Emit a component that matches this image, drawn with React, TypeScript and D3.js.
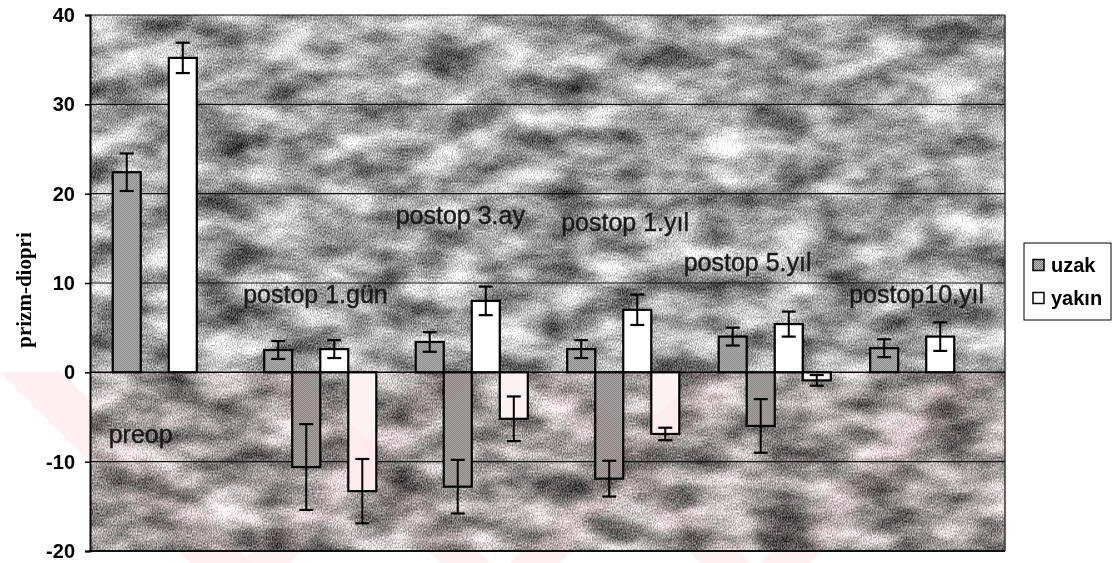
import React, { useEffect, useRef } from "react";
import * as d3 from "d3";

const categories = ["preop", "postop 1.gün", "postop 3.ay", "postop 1.yıl", "postop 5.yıl", "postop10.yıl"];
const seriesKeys = ["uzakArti", "uzakEksi", "yakinArti", "yakinEksi"];
const legendLabels = ["uzak", "yakın"];
const yTicks = [-20, -10, 0, 10, 20, 30, 40];

// mean values (null = no bar)
const uzakArti = [22.4, 2.5, 3.4, 2.6, 4.0, 2.7];
const uzakEksi = [null, -10.6, -12.8, -11.9, -6.0, null];
const yakinArti = [35.2, 2.6, 8.0, 7.0, 5.4, 4.0];
const yakinEksi = [null, -13.3, -5.2, -6.9, -0.9, null];
// standard error
const uzakArtiHata = [2.1, 1.0, 1.1, 1.0, 1.0, 1.0];
const uzakEksiHata = [null, 4.8, 3.0, 2.0, 3.0, null];
const yakinArtiHata = [1.7, 1.0, 1.6, 1.7, 1.4, 1.6];
const yakinEksiHata = [null, 3.6, 2.5, 0.7, 0.6, null];

const W = 1115;
const H = 563;
const margin = { top: 15, right: 110, bottom: 12, left: 90 };

const draw = (node: SVGSVGElement) => {
  const svg = d3.select(node);
  svg.selectAll("*").remove();
  const width = W - margin.left - margin.right;
  const height = H - margin.top - margin.bottom;

  const values = [uzakArti, uzakEksi, yakinArti, yakinEksi];
  const errors = [uzakArtiHata, uzakEksiHata, yakinArtiHata, yakinEksiHata];
  const rows = categories.map((c, i) => ({
    cat: c,
    bars: seriesKeys.map((k, j) => ({ key: k, v: values[j][i], e: errors[j][i], uzak: j < 2 }))
  }));

  const x0 = d3.scaleBand().domain(categories).range([0, width]).paddingInner(0.26).paddingOuter(0.15);
  const x1 = d3.scaleBand().domain(seriesKeys).range([0, x0.bandwidth()]).padding(0);
  const y = d3.scaleLinear().domain([-20, 40]).range([height, 0]);

  const defs = svg.append("defs");
  const f = defs
    .append("filter")
    .attr("id", "bgTex")
    .attr("x", "0%")
    .attr("y", "0%")
    .attr("width", "100%")
    .attr("height", "100%")
    .attr("color-interpolation-filters", "sRGB");
  f.append("feTurbulence")
    .attr("type", "fractalNoise")
    .attr("baseFrequency", "0.018 0.035")
    .attr("numOctaves", 3)
    .attr("seed", 11)
    .attr("result", "blob");
  f.append("feColorMatrix")
    .attr("in", "blob")
    .attr("type", "matrix")
    .attr("values", "1 0 0 0 0  1 0 0 0 0  1 0 0 0 0  0 0 0 0 1")
    .attr("result", "blobG");
  f.append("feTurbulence")
    .attr("type", "fractalNoise")
    .attr("baseFrequency", "0.8 0.5")
    .attr("numOctaves", 1)
    .attr("seed", 2)
    .attr("result", "fine");
  f.append("feColorMatrix")
    .attr("in", "fine")
    .attr("type", "matrix")
    .attr("values", "1 0 0 0 0  1 0 0 0 0  1 0 0 0 0  0 0 0 0 1")
    .attr("result", "fineG");
  f.append("feComposite")
    .attr("in", "blobG")
    .attr("in2", "fineG")
    .attr("operator", "arithmetic")
    .attr("k1", 0)
    .attr("k2", 1.1)
    .attr("k3", 0.85)
    .attr("k4", -0.34);

  const pat = defs
    .append("pattern")
    .attr("id", "uzakFill")
    .attr("width", 2)
    .attr("height", 2)
    .attr("patternUnits", "userSpaceOnUse");
  pat.append("rect").attr("width", 2).attr("height", 2).attr("fill", "#bdbdbd");
  [[0, 0], [1, 1]].forEach(([px, py]) =>
    pat.append("rect").attr("x", px).attr("y", py).attr("width", 1).attr("height", 1).attr("fill", "#7c7c7c")
  );

  const g = svg.append("g").attr("transform", `translate(${margin.left},${margin.top})`);

  // textured plot background
  g.append("rect")
    .attr("width", width)
    .attr("height", height)
    .attr("fill", "#aaa")
    .attr("filter", "url(#bgTex)");

  // gridlines
  g.selectAll(".grid")
    .data(yTicks.filter(t => t !== 0 && t !== -20))
    .enter()
    .append("line")
    .attr("x1", 0)
    .attr("x2", width)
    .attr("y1", d => y(d))
    .attr("y2", d => y(d))
    .attr("stroke", "#111")
    .attr("stroke-width", 1.2);

  // plot frame
  g.append("line").attr("x1", width).attr("x2", width).attr("y1", y(40)).attr("y2", y(-20)).attr("stroke", "#333").attr("stroke-width", 1.5);
  g.append("line").attr("x1", 0).attr("x2", width).attr("y1", y(-20)).attr("y2", y(-20)).attr("stroke", "#111").attr("stroke-width", 2);

  // bars
  const grp = g
    .selectAll(".cat")
    .data(rows)
    .enter()
    .append("g")
    .attr("transform", d => `translate(${x0(d.cat)},0)`);

  const bars = grp
    .selectAll(".bar")
    .data(d => d.bars.filter(b => b.v !== null))
    .enter()
    .append("g");

  bars
    .append("rect")
    .attr("x", d => x1(d.key)!)
    .attr("width", x1.bandwidth())
    .attr("y", d => y(Math.max(0, d.v!)))
    .attr("height", d => Math.abs(y(d.v!) - y(0)))
    .attr("fill", d => (d.uzak ? "url(#uzakFill)" : "#fff"))
    .attr("stroke", "#000")
    .attr("stroke-width", 2.2);

  const cap = 7;
  const cx = (d: any) => x1(d.key)! + x1.bandwidth() / 2;
  bars
    .append("line")
    .attr("x1", cx)
    .attr("x2", cx)
    .attr("y1", d => y(d.v! + d.e!))
    .attr("y2", d => y(d.v! - d.e!))
    .attr("stroke", "#000")
    .attr("stroke-width", 2);
  [1, -1].forEach(s =>
    bars
      .append("line")
      .attr("x1", d => cx(d) - cap)
      .attr("x2", d => cx(d) + cap)
      .attr("y1", d => y(d.v! + s * d.e!))
      .attr("y2", d => y(d.v! + s * d.e!))
      .attr("stroke", "#000")
      .attr("stroke-width", 2.2)
  );

  // zero line
  g.append("line").attr("x1", 0).attr("x2", width).attr("y1", y(0)).attr("y2", y(0)).attr("stroke", "#000").attr("stroke-width", 1.5);

  // category labels placed as text boxes inside the plot
  const labelPlace = [
    { dx: -4, at: -7.9 },
    { dx: -21, at: 7.8 },
    { dx: -20, at: 16.6 },
    { dx: -6, at: 15.8 },
    { dx: -35, at: 11.3 },
    { dx: -21, at: 7.8 }
  ];
  g.selectAll(".catLabel")
    .data(categories)
    .enter()
    .append("text")
    .attr("x", (d, i) => x0(d)! + labelPlace[i].dx)
    .attr("y", (d, i) => y(labelPlace[i].at))
    .attr("font-family", "'Liberation Sans', Arial, sans-serif")
    .attr("font-size", 25)
    .attr("fill", "#1a1a1a")
    .attr("stroke", "#1a1a1a")
    .attr("stroke-width", 0.4)
    .text(d => d);

  // y axis
  const yAxis = g.append("g").call(
    d3.axisLeft(y).tickValues(yTicks).tickSize(5).tickPadding(10).tickFormat(d => String(d))
  );
  yAxis.select(".domain").attr("stroke", "#000").attr("stroke-width", 2);
  yAxis.selectAll(".tick line").attr("stroke", "#000").attr("stroke-width", 1.5);
  yAxis
    .selectAll("text")
    .attr("font-family", "'Liberation Sans', Arial, sans-serif")
    .attr("font-size", 20)
    .attr("font-weight", "bold")
    .attr("fill", "#000");

  svg
    .append("text")
    .attr("transform", `translate(31,290) rotate(-90)`)
    .attr("text-anchor", "middle")
    .attr("font-family", "'Liberation Serif', 'Times New Roman', serif")
    .attr("font-weight", "bold")
    .attr("font-size", 21)
    .text("prizm-diopri");

  // legend
  const lg = svg.append("g").attr("transform", "translate(1024,243)");
  lg.append("rect").attr("width", 87).attr("height", 77).attr("fill", "#fff").attr("stroke", "#000").attr("stroke-width", 1);
  legendLabels.forEach((l, i) => {
    const row = lg.append("g").attr("transform", `translate(9,${22 + i * 33})`);
    row
      .append("rect")
      .attr("y", -5.5)
      .attr("width", 11)
      .attr("height", 11)
      .attr("fill", i === 0 ? "url(#uzakFill)" : "#fff")
      .attr("stroke", "#000")
      .attr("stroke-width", 1.5);
    row
      .append("text")
      .attr("x", 18)
      .attr("y", 7)
      .attr("font-family", "'Liberation Sans', Arial, sans-serif")
      .attr("font-weight", "bold")
      .attr("font-size", 20)
      .text(l);
  });

  // faint pink watermark over the lower half
  const wm = svg.append("g").style("mix-blend-mode", "multiply").attr("fill", "#fdeaed");
  wm.append("rect")
    .attr("x", margin.left)
    .attr("y", 372)
    .attr("width", width)
    .attr("height", margin.top + height - 372)
    .attr("fill", "#fcf2f3");
  const bands: [number, number, number, number][] = [
    [0, 62, 190, 252],
    [430, 480, 240, 290],
    [250, 300, 440, 490],
    [700, 750, 510, 560],
    [520, 570, 700, 750],
    [950, 1000, 760, 810]
  ];
  bands.forEach(([a, b, c, d]) =>
    wm.append("polygon").attr("points", `${a},372 ${b},372 ${d},${H} ${c},${H}`).attr("opacity", 0.7)
  );
};

const App = () => {
  const ref = useRef<SVGSVGElement>(null);
  useEffect(() => {
    if (ref.current) draw(ref.current);
  }, []);
  return (
    <svg
      ref={ref}
      width={W}
      height={H}
      style={{ position: "absolute", left: 0, top: 0, display: "block", background: "#fff" }}
    />
  );
};

export default App;
